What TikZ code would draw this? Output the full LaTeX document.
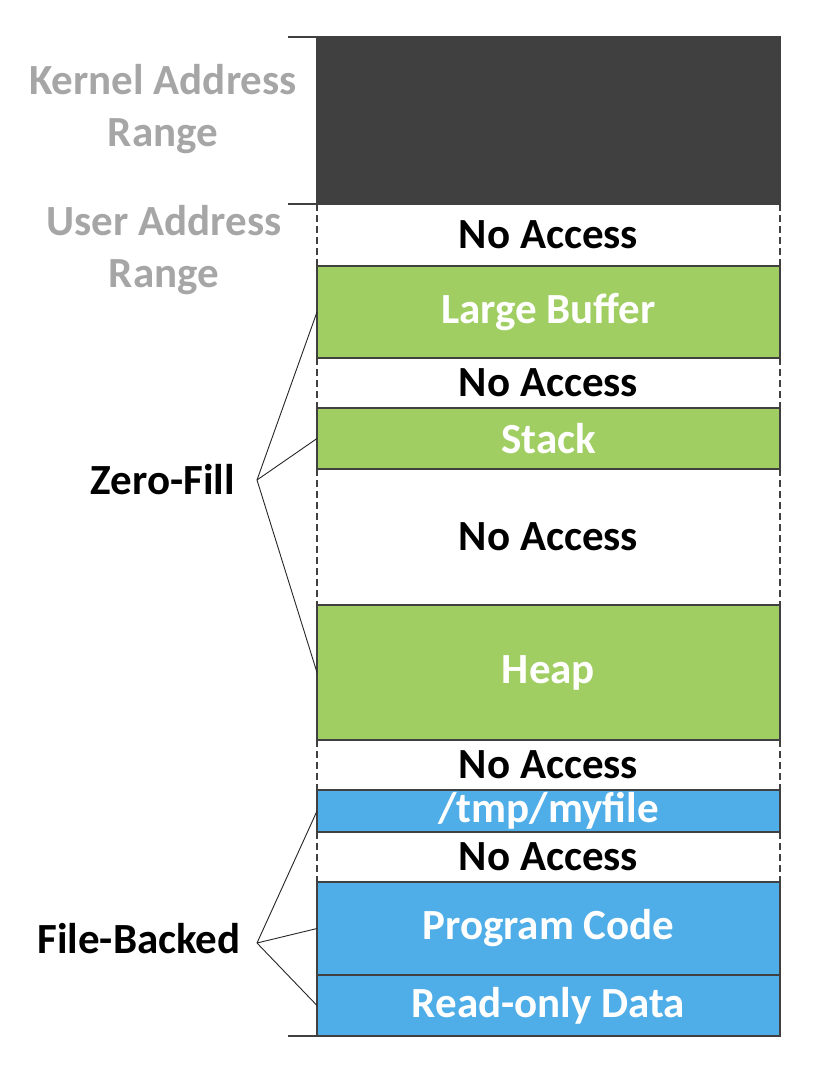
\documentclass[tikz,border=0pt]{standalone}
\usepackage{fontspec}
\setmainfont{Carlito}
\usetikzlibrary{positioning}

\definecolor{kernelgray}{HTML}{404040}
\definecolor{zerogreen}{HTML}{A0CE63}
\definecolor{fileblue}{HTML}{4FADE8}
\definecolor{rangegray}{HTML}{A6A6A6}

\begin{document}
\begin{tikzpicture}[x=1pt, y=-1pt, node distance=0pt,
                    every node/.style={font=\bfseries\fontsize{43}{52}\selectfont},
                    region/.style={rectangle, minimum width=463pt, inner sep=0pt, outer sep=0pt},
                    block/.style={region, draw=black!75, line width=1.2pt},
                    kern/.style={block, fill=kernelgray},
                    zfill/.style={block, fill=zerogreen, text=white},
                    fback/.style={block, fill=fileblue, text=white},
                    noacc/.style={region, text=black},
                    side/.style={draw=black!75, line width=1.2pt, dash pattern=on 7pt off 4pt},
                    range label/.style={text=rangegray, align=center},
                    kind label/.style={text=black, anchor=base},
                    fan/.style={draw=black!85, line width=0.9pt}]
  \useasboundingbox (0,0) rectangle (830,1070);

  \node[kern, minimum height=167pt, anchor=north] (1) at (548.5,37) {};
  \node[noacc, minimum height=62pt] (2) [below=of 1] {No Access};
  \node[zfill, minimum height=92pt] (3) [below=of 2] {Large Buffer};
  \node[noacc, minimum height=50pt] (4) [below=of 3] {No Access};
  \node[zfill, minimum height=61pt] (5) [below=of 4] {Stack};
  \node[noacc, minimum height=136pt] (6) [below=of 5] {No Access};
  \node[zfill, minimum height=135pt] (7) [below=of 6] {Heap};
  \node[noacc, minimum height=50pt] (8) [below=of 7] {No Access};
  \node[fback, minimum height=42pt] (9) [below=of 8] {/tmp/myfile};
  \node[noacc, minimum height=50pt] (10) [below=of 9] {No Access};
  \node[fback, minimum height=93pt] (11) [below=of 10] {Program Code};
  \node[fback, minimum height=61pt] (12) [below=of 11] {Read-only Data};

  \foreach \n in {2,4,6,8,10}
    \draw[side] (\n.north west) -- (\n.south west) (\n.north east) -- (\n.south east);

  \draw[block] (1.north west) -- ++(-29,0);
  \draw[block] (1.south west) -- ++(-29,0);
  \draw[block] (12.south west) -- ++(-29,0);

  \node[range label] (kr) at (163,109) {Kernel Address\\Range};
  \node[range label] (ur) at (164,250) {User Address\\Range};
  \node[kind label] (zf) at (163,494) {Zero-Fill};
  \node[kind label] (fb) at (139,953) {File-Backed};

  \coordinate (zfa) at (257,480);
  \coordinate (fba) at (257,943);

  \path[fan]
    (zfa) edge (3.west)
          edge (5.west)
          edge (7.west)
    (fba) edge (9.west)
          edge (11.west)
          edge (12.west);
\end{tikzpicture}
\end{document}
